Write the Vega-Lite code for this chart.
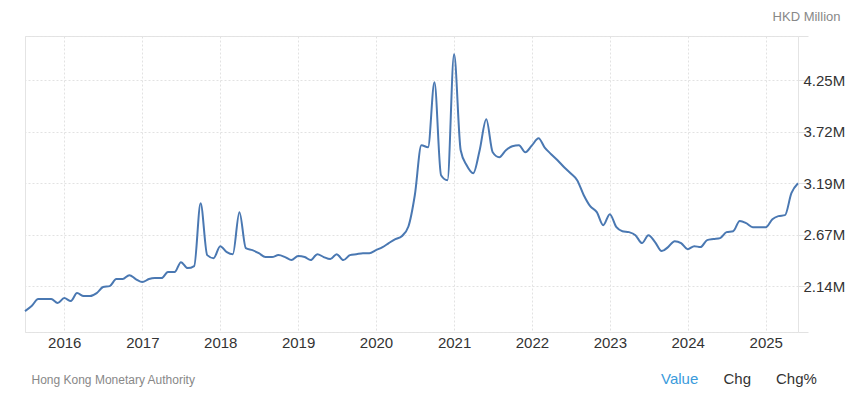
{
  "$schema": "https://vega.github.io/schema/vega-lite/v6.json",
  "width": 773,
  "height": 296,
  "autosize": {"type": "none"},
  "padding": {"left": 25, "top": 36, "right": 60, "bottom": 67},
  "background": "#ffffff",
  "config": {
    "font": "Liberation Sans",
    "view": {"stroke": "#e4e4e4", "strokeWidth": 1}
  },
  "title": {
    "text": "Value",
    "subtitle": "\u200b\u00a0\u00a0\u00a0\u00a0\u00a0\u00a0\u00a0\u00a0\u00a0\u00a0\u00a0\u00a0\u00a0\u00a0\u00a0Chg\u00a0\u00a0\u00a0\u00a0\u00a0\u00a0Chg%",
    "orient": "bottom",
    "anchor": "start",
    "frame": "group",
    "dx": 636,
    "dy": -13,
    "offset": 0,
    "baseline": "top",
    "font": "Liberation Sans",
    "fontSize": 15,
    "fontWeight": "normal",
    "color": "#3a9bdc",
    "subtitleFont": "Liberation Sans",
    "subtitleFontSize": 15,
    "subtitleColor": "#333333",
    "subtitlePadding": -15
  },
  "data": {
    "values": [
      {"date": "2015-07-01", "value": 1.884},
      {"date": "2015-08-01", "value": 1.936},
      {"date": "2015-09-01", "value": 2.007},
      {"date": "2015-10-01", "value": 2.007},
      {"date": "2015-11-01", "value": 2.007},
      {"date": "2015-12-01", "value": 1.966},
      {"date": "2016-01-01", "value": 2.017},
      {"date": "2016-02-01", "value": 1.987},
      {"date": "2016-03-01", "value": 2.068},
      {"date": "2016-04-01", "value": 2.038},
      {"date": "2016-05-01", "value": 2.038},
      {"date": "2016-06-01", "value": 2.068},
      {"date": "2016-07-01", "value": 2.130},
      {"date": "2016-08-01", "value": 2.140},
      {"date": "2016-09-01", "value": 2.212},
      {"date": "2016-10-01", "value": 2.212},
      {"date": "2016-11-01", "value": 2.252},
      {"date": "2016-12-01", "value": 2.212},
      {"date": "2017-01-01", "value": 2.181},
      {"date": "2017-02-01", "value": 2.212},
      {"date": "2017-03-01", "value": 2.222},
      {"date": "2017-04-01", "value": 2.222},
      {"date": "2017-05-01", "value": 2.283},
      {"date": "2017-06-01", "value": 2.283},
      {"date": "2017-07-01", "value": 2.385},
      {"date": "2017-08-01", "value": 2.324},
      {"date": "2017-09-01", "value": 2.345},
      {"date": "2017-10-01", "value": 2.989},
      {"date": "2017-11-01", "value": 2.457},
      {"date": "2017-12-01", "value": 2.426},
      {"date": "2018-01-01", "value": 2.549},
      {"date": "2018-02-01", "value": 2.488},
      {"date": "2018-03-01", "value": 2.467},
      {"date": "2018-04-01", "value": 2.897},
      {"date": "2018-05-01", "value": 2.529},
      {"date": "2018-06-01", "value": 2.508},
      {"date": "2018-07-01", "value": 2.477},
      {"date": "2018-08-01", "value": 2.437},
      {"date": "2018-09-01", "value": 2.437},
      {"date": "2018-10-01", "value": 2.457},
      {"date": "2018-11-01", "value": 2.437},
      {"date": "2018-12-01", "value": 2.406},
      {"date": "2019-01-01", "value": 2.447},
      {"date": "2019-02-01", "value": 2.437},
      {"date": "2019-03-01", "value": 2.406},
      {"date": "2019-04-01", "value": 2.467},
      {"date": "2019-05-01", "value": 2.437},
      {"date": "2019-06-01", "value": 2.416},
      {"date": "2019-07-01", "value": 2.467},
      {"date": "2019-08-01", "value": 2.406},
      {"date": "2019-09-01", "value": 2.457},
      {"date": "2019-10-01", "value": 2.467},
      {"date": "2019-11-01", "value": 2.477},
      {"date": "2019-12-01", "value": 2.477},
      {"date": "2020-01-01", "value": 2.508},
      {"date": "2020-02-01", "value": 2.539},
      {"date": "2020-03-01", "value": 2.580},
      {"date": "2020-04-01", "value": 2.621},
      {"date": "2020-05-01", "value": 2.651},
      {"date": "2020-06-01", "value": 2.750},
      {"date": "2020-07-01", "value": 3.070},
      {"date": "2020-08-01", "value": 3.582},
      {"date": "2020-09-01", "value": 3.561},
      {"date": "2020-10-01", "value": 4.226},
      {"date": "2020-11-01", "value": 3.275},
      {"date": "2020-12-01", "value": 3.224},
      {"date": "2021-01-01", "value": 4.512},
      {"date": "2021-02-01", "value": 3.531},
      {"date": "2021-03-01", "value": 3.377},
      {"date": "2021-04-01", "value": 3.295},
      {"date": "2021-05-01", "value": 3.531},
      {"date": "2021-06-01", "value": 3.848},
      {"date": "2021-07-01", "value": 3.510},
      {"date": "2021-08-01", "value": 3.459},
      {"date": "2021-09-01", "value": 3.531},
      {"date": "2021-10-01", "value": 3.571},
      {"date": "2021-11-01", "value": 3.582},
      {"date": "2021-12-01", "value": 3.510},
      {"date": "2022-01-01", "value": 3.580},
      {"date": "2022-02-01", "value": 3.653},
      {"date": "2022-03-01", "value": 3.561},
      {"date": "2022-04-01", "value": 3.490},
      {"date": "2022-05-01", "value": 3.428},
      {"date": "2022-06-01", "value": 3.357},
      {"date": "2022-07-01", "value": 3.295},
      {"date": "2022-08-01", "value": 3.224},
      {"date": "2022-09-01", "value": 3.070},
      {"date": "2022-10-01", "value": 2.958},
      {"date": "2022-11-01", "value": 2.897},
      {"date": "2022-12-01", "value": 2.764},
      {"date": "2023-01-01", "value": 2.876},
      {"date": "2023-02-01", "value": 2.743},
      {"date": "2023-03-01", "value": 2.702},
      {"date": "2023-04-01", "value": 2.692},
      {"date": "2023-05-01", "value": 2.661},
      {"date": "2023-06-01", "value": 2.580},
      {"date": "2023-07-01", "value": 2.661},
      {"date": "2023-08-01", "value": 2.590},
      {"date": "2023-09-01", "value": 2.498},
      {"date": "2023-10-01", "value": 2.539},
      {"date": "2023-11-01", "value": 2.600},
      {"date": "2023-12-01", "value": 2.580},
      {"date": "2024-01-01", "value": 2.518},
      {"date": "2024-02-01", "value": 2.549},
      {"date": "2024-03-01", "value": 2.539},
      {"date": "2024-04-01", "value": 2.610},
      {"date": "2024-05-01", "value": 2.621},
      {"date": "2024-06-01", "value": 2.631},
      {"date": "2024-07-01", "value": 2.692},
      {"date": "2024-08-01", "value": 2.702},
      {"date": "2024-09-01", "value": 2.805},
      {"date": "2024-10-01", "value": 2.784},
      {"date": "2024-11-01", "value": 2.743},
      {"date": "2024-12-01", "value": 2.743},
      {"date": "2025-01-01", "value": 2.743},
      {"date": "2025-02-01", "value": 2.825},
      {"date": "2025-03-01", "value": 2.856},
      {"date": "2025-04-01", "value": 2.866},
      {"date": "2025-05-01", "value": 3.091},
      {"date": "2025-06-01", "value": 3.193}
    ]
  },
  "mark": {"type": "line", "interpolate": "monotone", "color": "#4a78b2", "strokeWidth": 2},
  "encoding": {
    "x": {
      "field": "date",
      "type": "temporal",
      "scale": {
        "type": "utc",
        "domain": [
          {"year": 2015, "month": 7, "date": 1, "utc": true},
          {"year": 2025, "month": 6, "date": 1, "utc": true}
        ]
      },
      "axis": {
        "values": [
          {"year": 2016, "month": 1, "date": 1, "utc": true},
          {"year": 2017, "month": 1, "date": 1, "utc": true},
          {"year": 2018, "month": 1, "date": 1, "utc": true},
          {"year": 2019, "month": 1, "date": 1, "utc": true},
          {"year": 2020, "month": 1, "date": 1, "utc": true},
          {"year": 2021, "month": 1, "date": 1, "utc": true},
          {"year": 2022, "month": 1, "date": 1, "utc": true},
          {"year": 2023, "month": 1, "date": 1, "utc": true},
          {"year": 2024, "month": 1, "date": 1, "utc": true},
          {"year": 2025, "month": 1, "date": 1, "utc": true}
        ],
        "format": "%Y",
        "formatType": "utc",
        "domain": false,
        "ticks": false,
        "labelPadding": 3,
        "labelFontSize": 15,
        "labelColor": "#333333",
        "labelFont": "Liberation Sans",
        "grid": true,
        "gridColor": "#e2e2e2",
        "gridDash": [2, 2],
        "title": "Hong Kong Monetary Authority",
        "titleAnchor": "start",
        "titleAlign": "left",
        "titleBaseline": "middle",
        "titleX": 6,
        "titleY": 47,
        "titleFont": "Liberation Sans",
        "titleFontSize": 12,
        "titleFontWeight": "normal",
        "titleColor": "#888888"
      }
    },
    "y": {
      "field": "value",
      "type": "quantitative",
      "scale": {"domain": [1.67, 4.70], "nice": false, "zero": false},
      "axis": {
        "orient": "right",
        "values": [1.67, 2.14, 2.6667, 3.1933, 3.72, 4.2467, 4.70],
        "labelExpr": "datum.value < 2 || datum.value > 4.5 ? '' : format(datum.value, '.2f') + 'M'",
        "domain": false,
        "ticks": true,
        "tickSize": 10,
        "tickColor": "#e2e2e2",
        "labelPadding": -5,
        "labelFontSize": 15,
        "labelColor": "#333333",
        "labelFont": "Liberation Sans",
        "labelBaseline": "middle",
        "grid": true,
        "gridColor": "#e2e2e2",
        "gridDash": [2, 2],
        "title": "HKD Million",
        "titleAngle": 0,
        "titleAlign": "right",
        "titleBaseline": "middle",
        "titleX": 42,
        "titleY": -20,
        "titleFont": "Liberation Sans",
        "titleFontSize": 13,
        "titleFontWeight": "normal",
        "titleColor": "#888888"
      }
    }
  }
}
